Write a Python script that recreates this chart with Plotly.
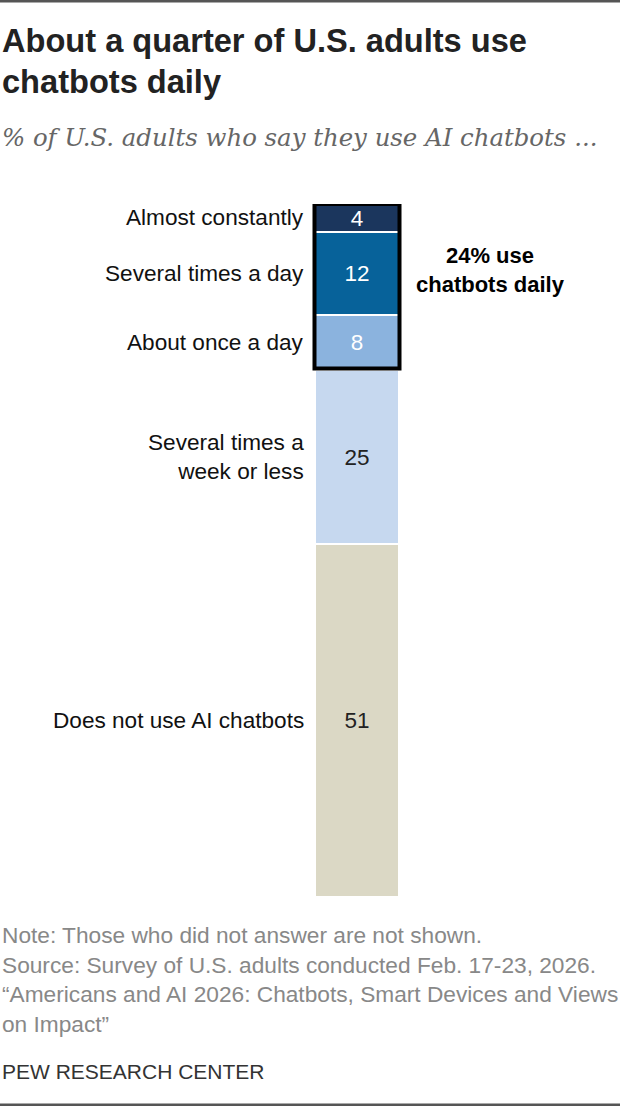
import plotly.graph_objects as go

# data
categories = ["Almost constantly", "Several times a day", "About once a day",
              "Several times a<br>week or less", "Does not use AI chatbots"]
values = [4, 12, 8, 25, 51]
colors = ["#1b365d", "#07629a", "#8bb3de", "#c6d8ef", "#dbd8c5"]
text_colors = ["white", "white", "white", "#222222", "#222222"]
daily_n = 3  # first three segments are "daily"

title_lines = ["About a quarter of U.S. adults use", "chatbots daily"]
subtitle = "% of U.S. adults who say they use AI chatbots ..."
note_lines = [
    "Note: Those who did not answer are not shown.",
    "Source: Survey of U.S. adults conducted Feb. 17-23, 2026.",
    "\u201cAmericans and AI 2026: Chatbots, Smart Devices and Views",
    "on Impact\u201d",
]

W, H = 620, 1106
BAR_L, BAR_R = 315, 399
PLOT_T, PLOT_B = 204, 897

def px_x(p):
    return p / W

def px_y(p):
    return 1 - p / H

SANS = "Liberation Sans, Arial, sans-serif"

fig = go.Figure()
for cat, val, col, tc in zip(categories, values, colors, text_colors):
    fig.add_trace(go.Bar(
        x=["all"], y=[val], name=cat,
        marker=dict(color=col, line=dict(color="white", width=2)),
        text=[str(val)], textposition="inside", insidetextanchor="middle",
        textangle=0, constraintext="none",
        textfont=dict(family=SANS, size=22.5, color=tc),
        hoverinfo="skip",
    ))

# category labels on the left
annotations = []
cum = 0
for cat, val in zip(categories, values):
    annotations.append(dict(
        xref="paper", yref="y", x=px_x(306), y=cum + val / 2,
        xanchor="right", yanchor="middle", align="right", showarrow=False,
        text=cat, font=dict(family=SANS, size=22.6, color="#111111"),
    ))
    cum += val

daily_total = sum(values[:daily_n])

def text_at(txt, x, y, font, anchor="left"):
    return dict(xref="paper", yref="paper", x=px_x(x), y=px_y(y),
                xanchor=anchor, yanchor="middle", align=anchor, showarrow=False,
                text=txt, font=font)

title_font = dict(family=SANS, size=32.6, color="#222222")
for line, y in zip(title_lines, [41, 81]):
    annotations.append(text_at(f"<b>{line}</b>", 0, y, title_font))

annotations.append(text_at(f"<i>{subtitle}</i>", 0, 138,
                           dict(family="DejaVu Serif, Georgia, serif", size=24.4,
                                color="#666666")))

annotations.append(text_at(f"<b>{daily_total}% use<br>chatbots daily</b>", 490, 270,
                           dict(family=SANS, size=22, color="#000000"), anchor="center"))

note_font = dict(family=SANS, size=22.7, color="#888888")
for line, y in zip(note_lines, [935, 964.5, 994, 1023.5]):
    annotations.append(text_at(line, 0, y, note_font))

annotations.append(text_at("PEW RESEARCH CENTER", 0, 1071.5,
                           dict(family=SANS, size=21, color="#333333")))

shapes = [
    # box around the daily segments
    dict(type="rect", xref="paper", yref="y",
         x0=px_x(314.5), x1=px_x(399.5), y0=0, y1=daily_total - 0.25,
         line=dict(color="black", width=4), fillcolor="rgba(0,0,0,0)"),
    dict(type="line", xref="paper", yref="paper", x0=0, x1=1, y0=px_y(1), y1=px_y(1),
         line=dict(color="#555555", width=3)),
    dict(type="line", xref="paper", yref="paper", x0=0, x1=1, y0=px_y(1105), y1=px_y(1105),
         line=dict(color="#555555", width=3)),
]

fig.update_layout(
    width=W, height=H,
    margin=dict(l=0, r=0, t=0, b=0, pad=0),
    paper_bgcolor="white", plot_bgcolor="white",
    barmode="stack", bargap=0, showlegend=False,
    xaxis=dict(domain=[px_x(BAR_L), px_x(BAR_R)], visible=False, fixedrange=True),
    yaxis=dict(domain=[px_y(PLOT_B), px_y(PLOT_T)], range=[100, 0], visible=False,
               fixedrange=True),
    annotations=annotations, shapes=shapes,
)

fig.write_html("out.html", config={"displayModeBar": False},
               post_script="document.body.style.margin='0';"
                           "document.body.style.overflow='hidden';")
